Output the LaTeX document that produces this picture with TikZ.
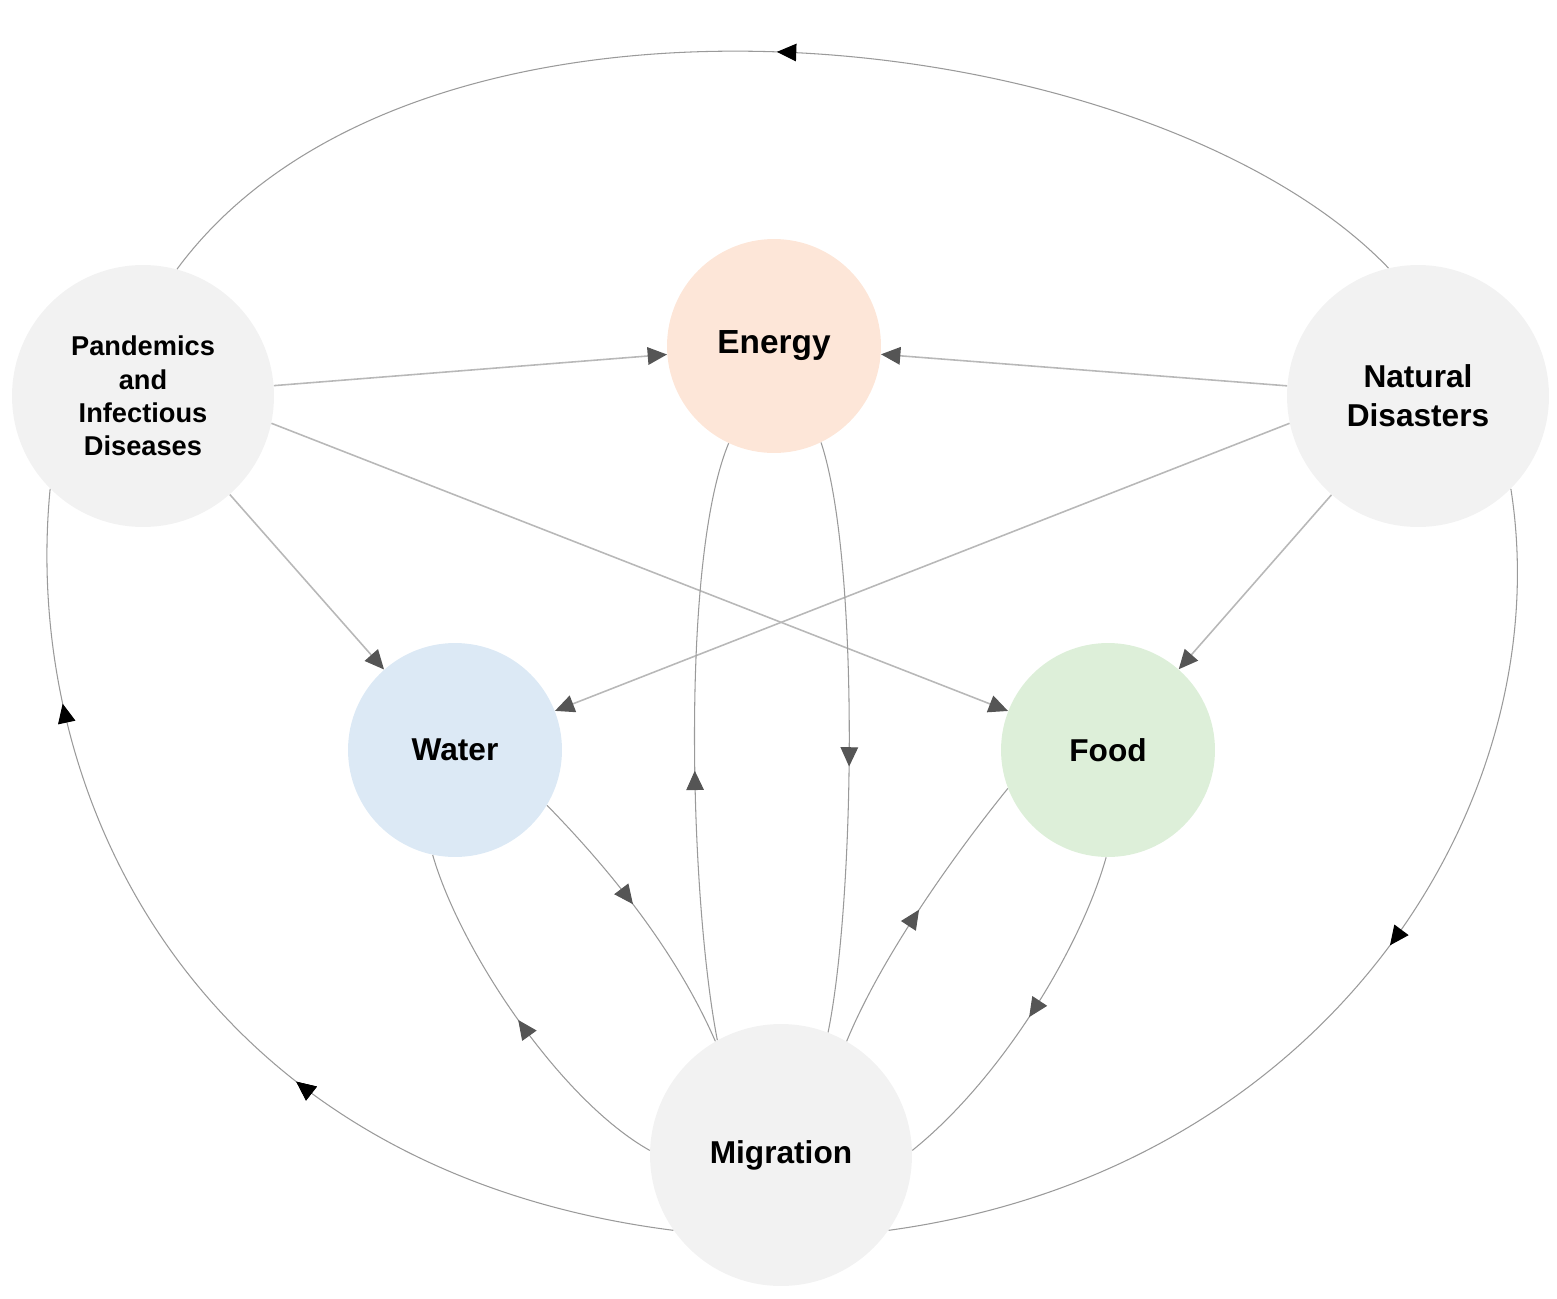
\documentclass[tikz,border=0pt]{standalone}
\usepackage{fontspec}
\setmainfont{Liberation Sans}
\usetikzlibrary{arrows.meta,decorations.markings}
\definecolor{gfill}{HTML}{F2F2F2}
\definecolor{efill}{HTML}{FDE6D8}
\definecolor{wfill}{HTML}{DCE9F5}
\definecolor{ffill}{HTML}{DDEFD9}
\definecolor{lc}{HTML}{9A9A9A}
\definecolor{ac}{HTML}{555555}
\begin{document}
\begin{tikzpicture}[x=0.02cm,y=-0.02cm,
  circ/.style={circle,draw=none,inner sep=0pt,align=center,font=\bfseries},
  big/.style={circ,fill=gfill,minimum size=5.24cm},
  small/.style={circ,minimum size=4.28cm,font=\fontsize{18}{21}\selectfont\bfseries},
  st/.style={draw=lc!70,line width=0.9pt,-{Triangle[length=11pt,width=10pt,color=ac]}},
  cv/.style={draw=lc,line width=0.6pt,postaction={decorate},
    decoration={markings,mark=at position #1 with {\arrow{Triangle[length=11pt,width=10pt,color=ac]}}}},
  ov/.style={draw=lc,line width=0.6pt,postaction={decorate},
    decoration={markings,mark=at position #1 with {\arrow{Triangle[length=11pt,width=10pt,color=black]}}}}]
\useasboundingbox (0,0) rectangle (1557,1298);
\node[big,font=\fontsize{15.5}{19}\selectfont\bfseries] (pand) at (143,396) {Pandemics\\and\\Infectious\\Diseases};
\node[big,font=\fontsize{18}{22}\selectfont\bfseries] (nat) at (1418,396) {Natural\\Disasters};
\node[big,font=\fontsize{18}{22}\selectfont\bfseries] (mig) at (781,1155) {Migration};
\node[small,fill=efill,font=\fontsize{19}{22}\selectfont\bfseries] (en) at (774,346) {Energy};
\node[small,fill=wfill] (wat) at (455,750) {Water};
\node[small,fill=ffill] (food) at (1108,750) {Food};

\draw[st] (pand) -- (en);
\draw[st] (nat) -- (en);
\draw[st] (pand) -- (wat);
\draw[st] (pand.-12) -- (food);
\draw[st] (nat.192) -- (wat);
\draw[st] (nat) -- (food);

\draw[cv=0.45] (mig.119) .. controls (690,900) and (680,560) .. (en.245);
\draw[cv=0.55] (en.296) .. controls (860,560) and (855,900) .. (mig.69);
\draw[cv=0.45] (wat.329) .. controls (620,880) and (680,960) .. (mig.120);
\draw[cv=0.5] (mig.178) .. controls (560,1100) and (460,950) .. (wat.258);
\draw[cv=0.5] (mig.60) .. controls (880,960) and (950,860) .. (food.201);
\draw[cv=0.5] (food.269) .. controls (1080,950) and (1000,1080) .. (mig.2);

\draw[ov=0.5] (nat.103) .. controls (1150,20) and (420,-60) .. (pand.75);
\draw[ov/.list={0.38}, postaction={decorate,decoration={markings,mark=at position 0.8 with {\arrow{Triangle[length=11pt,width=10pt,color=black]}}}}] (mig.215) .. controls (200,1170) and (20,800) .. (pand.225);
\draw[ov=0.45] (nat.315) .. controls (1560,800) and (1330,1170) .. (mig.325);
\end{tikzpicture}
\end{document}
